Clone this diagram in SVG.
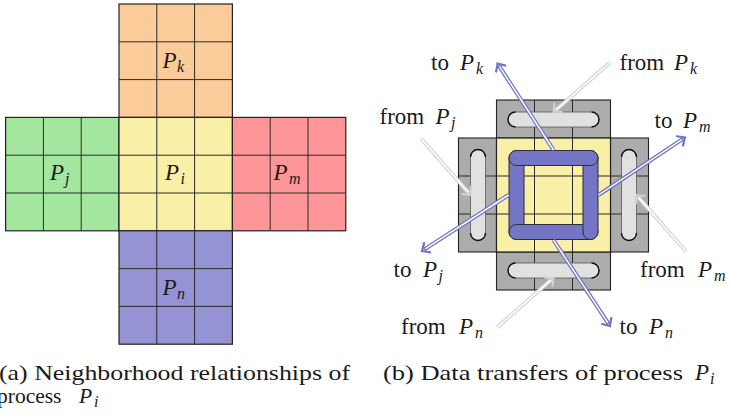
<svg xmlns="http://www.w3.org/2000/svg" xmlns:xlink="http://www.w3.org/1999/xlink" width="730" height="420" viewBox="0 0 730 420">
  <style>
    .blk { stroke: #222; stroke-width: 1.2; }
    .grid { stroke: #2a2a2a; stroke-width: 1; fill: none; }
    .txt { font-size: 23px; fill: #1a1a1a; }
    .cap-txt { font-size: 21.5px; }
    .mi { font-style: italic; }
    .sub { font-style: italic; font-size: 16px; }
    .ring { fill: #7476c5; stroke: #2b2b3a; stroke-width: 1; }
    .cap { fill: #e1e1e1; stroke: #555; stroke-width: 0.8; }
    .gblk { fill: #acacac; stroke: #222; stroke-width: 1.1; }
    .bl-out { stroke: #6f72c9; stroke-width: 4; fill: none; }
    .bl-in { stroke: #ffffff; stroke-width: 1.5; fill: none; }
    .gr-out { stroke: #d6d6d6; stroke-width: 4; fill: none; }
    .gr-in { stroke: #ffffff; stroke-width: 1.5; fill: none; }
    .tip-b { stroke: #6f72c9; stroke-width: 2.2; fill: none; stroke-linecap: round; }
    .tip-g { stroke: #d0d0d0; stroke-width: 2.2; fill: none; stroke-linecap: round; }
  </style>
  <defs>
    <!-- curved "to" style arrow tip, pointing along +x with the point at the origin -->
    <path id="tip" d="M -6,-5.5 Q -1.5,-1.2 0,0 Q -1.5,1.2 -6,5.5"/>
  </defs>

  <g font-family="'Liberation Serif', 'Times New Roman', 'DejaVu Serif', serif">
  <!-- (a) neighbourhood of process Pi -->
  <g id="Pk">
    <rect class="blk" x="119" y="4" width="113.4" height="113.4" fill="#fccb9a"/>
    <path class="grid" d="M156.8,4V117.4M194.6,4V117.4M119,41.8H232.4M119,79.6H232.4"/>
    <text class="txt" x="162.5" y="68"><tspan class="mi">P</tspan><tspan class="sub" x="177" dy="4">k</tspan></text>
  </g>
  <g id="Pj">
    <rect class="blk" x="5.6" y="117.4" width="113.4" height="113.4" fill="#a3e79e"/>
    <path class="grid" d="M43.4,117.4V230.8M81.2,117.4V230.8M5.6,155.2H119M5.6,193H119"/>
    <text class="txt" x="50" y="180"><tspan class="mi">P</tspan><tspan class="sub" x="65" dy="4">j</tspan></text>
  </g>
  <g id="Pi">
    <rect class="blk" x="119" y="117.4" width="113.4" height="113.4" fill="#f9efa7"/>
    <path class="grid" d="M156.8,117.4V230.8M194.6,117.4V230.8M119,155.2H232.4M119,193H232.4"/>
    <text class="txt" x="165" y="180"><tspan class="mi">P</tspan><tspan class="sub" x="180.5" dy="4">i</tspan></text>
  </g>
  <g id="Pm">
    <rect class="blk" x="232.4" y="117.4" width="113.4" height="113.4" fill="#fe9699"/>
    <path class="grid" d="M270.2,117.4V230.8M308,117.4V230.8M232.4,155.2H345.8M232.4,193H345.8"/>
    <text class="txt" x="273.5" y="180"><tspan class="mi">P</tspan><tspan class="sub" x="289" dy="4">m</tspan></text>
  </g>
  <g id="Pn">
    <rect class="blk" x="119" y="230.8" width="113.4" height="113.4" fill="#9593d4"/>
    <path class="grid" d="M156.8,230.8V344.2M194.6,230.8V344.2M119,268.6H232.4M119,306.4H232.4"/>
    <text class="txt" x="162.5" y="295"><tspan class="mi">P</tspan><tspan class="sub" x="177" dy="4">n</tspan></text>
  </g>
  <g id="caption-a">
    <text class="txt cap-txt" x="-1" y="380" textLength="351" lengthAdjust="spacingAndGlyphs">(a) Neighborhood relationships of</text>
    <text class="txt cap-txt" x="-3" y="403">process <tspan class="mi" x="79">P</tspan><tspan class="sub" x="94" dy="4">i</tspan></text>
  </g>

  <!-- (b) data transfers of process Pi -->
  <g id="halo">
    <rect class="gblk" x="496.5" y="100" width="114" height="38"/>
    <rect class="gblk" x="458.5" y="138" width="38" height="114"/>
    <rect class="gblk" x="610.5" y="138" width="38" height="114"/>
    <rect class="gblk" x="496.5" y="252" width="114" height="38"/>
    <path class="grid" d="M534.5,100V138M572.5,100V138M534.5,252V290M572.5,252V290M458.5,176H496.5M458.5,214H496.5M610.5,176H648.5M610.5,214H648.5"/>
  </g>
  <g id="core">
    <rect class="blk" x="496.5" y="138" width="114" height="114" fill="#f9efa7"/>
    <path class="grid" d="M534.5,138V252M572.5,138V252M496.5,176H610.5M496.5,214H610.5"/>
  </g>
  <g id="recv-buffers">
    <rect class="cap" x="508" y="112" width="91" height="15" rx="7.5"/>
    <rect class="cap" x="470.5" y="149.5" width="15" height="91" rx="7.5"/>
    <rect class="cap" x="621.5" y="149.5" width="15" height="91" rx="7.5"/>
    <rect class="cap" x="508" y="263" width="91" height="15" rx="7.5"/>
    <path fill="none" stroke="#111" stroke-width="1.4" d="M515.5,112A7.5,7.5 0 0 0 515.5,127M591.5,112A7.5,7.5 0 0 1 591.5,127M515.5,263A7.5,7.5 0 0 0 515.5,278M591.5,263A7.5,7.5 0 0 1 591.5,278M470.5,157A7.5,7.5 0 0 1 485.5,157M470.5,233A7.5,7.5 0 0 0 485.5,233M621.5,157A7.5,7.5 0 0 1 636.5,157M621.5,233A7.5,7.5 0 0 0 636.5,233"/>
  </g>
  <g id="send-ring">
    <rect class="ring" x="509" y="150.5" width="15" height="89" rx="7.5"/>
    <rect class="ring" x="509" y="224.5" width="89" height="15" rx="7.5"/>
    <rect class="ring" x="583" y="150.5" width="15" height="89" rx="7.5"/>
    <rect class="ring" x="509" y="150.5" width="89" height="15" rx="7.5"/>
  </g>

  <g id="connectors">
    <!-- outgoing transfers -->
    <path class="bl-out" d="M553.5,150L498.9,65.6"/>
    <path class="bl-in" d="M553.5,150L499.6,66.7"/>
    <use xlink:href="#tip" class="tip-b" transform="translate(497.5,63.5) rotate(-122.9)"/>

    <path class="bl-out" d="M598.5,195L682.9,138.9"/>
    <path class="bl-in" d="M598.5,195L681.8,139.6"/>
    <use xlink:href="#tip" class="tip-b" transform="translate(685,137.5) rotate(-33.6)"/>

    <path class="bl-out" d="M553.5,240L608.6,323.9"/>
    <path class="bl-in" d="M553.5,240L607.9,322.8"/>
    <use xlink:href="#tip" class="tip-b" transform="translate(610,326) rotate(56.7)"/>

    <path class="bl-out" d="M508.5,195L424.1,249.6"/>
    <path class="bl-in" d="M508.5,195L425.2,248.9"/>
    <use xlink:href="#tip" class="tip-b" transform="translate(422,251) rotate(147.1)"/>

    <!-- incoming transfers -->
    <path class="gr-out" d="M610,62.5L555.4,110.4"/>
    <path class="gr-in" d="M610,62.5L556.2,109.7"/>
    <use xlink:href="#tip" class="tip-g" transform="translate(553.5,112) rotate(138.8)"/>

    <path class="gr-out" d="M686,251.5L638.1,196.9"/>
    <path class="gr-in" d="M686,251.5L638.8,197.7"/>
    <use xlink:href="#tip" class="tip-g" transform="translate(636.5,195) rotate(-131.2)"/>

    <path class="gr-out" d="M497,327.5L551.6,279.6"/>
    <path class="gr-in" d="M497,327.5L550.8,280.3"/>
    <use xlink:href="#tip" class="tip-g" transform="translate(553.5,278) rotate(-41.2)"/>

    <path class="gr-out" d="M421,138.5L468.9,193.1"/>
    <path class="gr-in" d="M421,138.5L468.2,192.3"/>
    <use xlink:href="#tip" class="tip-g" transform="translate(470.5,195) rotate(48.8)"/>
  </g>

  <g id="labels">
    <text class="txt" x="431" y="70">to <tspan class="mi" x="460">P</tspan><tspan class="sub" x="476" dy="4">k</tspan></text>
    <text class="txt" x="619.5" y="70">from <tspan class="mi" x="674">P</tspan><tspan class="sub" x="690" dy="4">k</tspan></text>
    <text class="txt" x="379.5" y="123.5">from <tspan class="mi" x="435.5">P</tspan><tspan class="sub" x="451" dy="4">j</tspan></text>
    <text class="txt" x="654.5" y="128">to <tspan class="mi" x="683">P</tspan><tspan class="sub" x="699" dy="4">m</tspan></text>
    <text class="txt" x="393.5" y="277">to <tspan class="mi" x="423">P</tspan><tspan class="sub" x="438.5" dy="4">j</tspan></text>
    <text class="txt" x="640" y="277">from <tspan class="mi" x="698">P</tspan><tspan class="sub" x="714" dy="4">m</tspan></text>
    <text class="txt" x="401" y="333.5">from <tspan class="mi" x="459">P</tspan><tspan class="sub" x="475" dy="4">n</tspan></text>
    <text class="txt" x="619.5" y="333.5">to <tspan class="mi" x="649">P</tspan><tspan class="sub" x="665" dy="4">n</tspan></text>
  </g>
  <g id="caption-b">
    <text class="txt cap-txt" x="383" y="380" textLength="300" lengthAdjust="spacingAndGlyphs">(b) Data transfers of process</text>
    <text class="txt" x="695" y="380"><tspan class="mi">P</tspan><tspan class="sub" x="710" dy="4">i</tspan></text>
  </g>
  </g>
</svg>
